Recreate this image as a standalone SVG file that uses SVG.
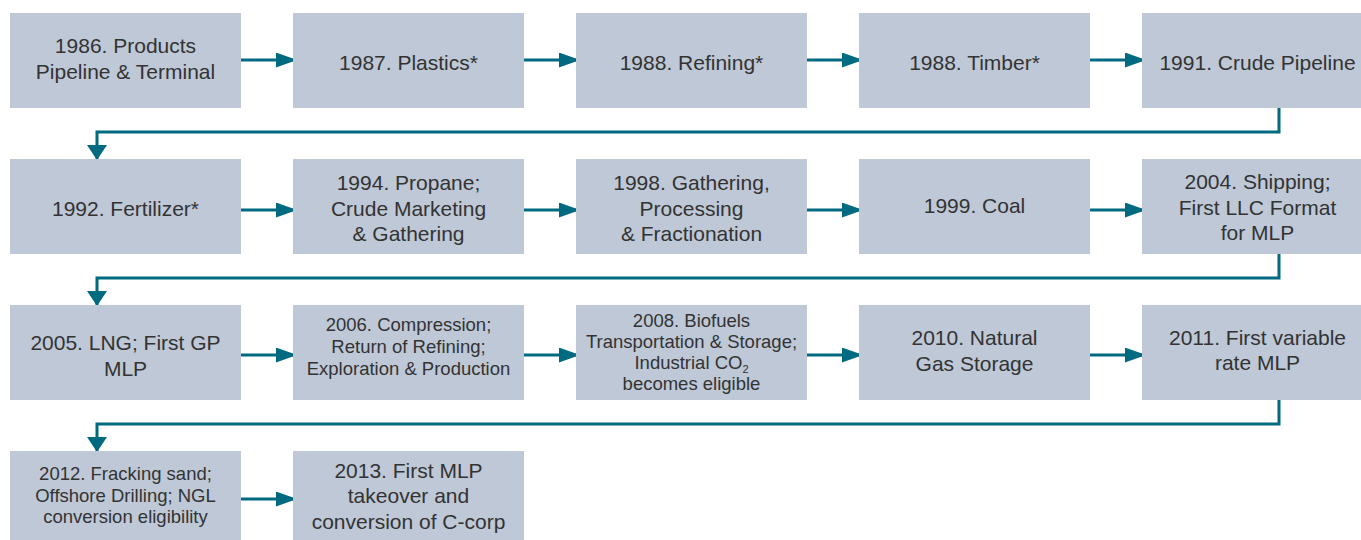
<svg xmlns="http://www.w3.org/2000/svg" width="1361" height="540" viewBox="0 0 1361 540">
<style>
.box{fill:#bec8d6}
.t{font-family:"Liberation Sans",Arial,sans-serif;font-size:21px;fill:#333;text-anchor:middle}
.s{font-size:18.5px}
.c{fill:none;stroke:#006a80;stroke-width:3}
</style>
<defs>
<marker id="ah" markerUnits="userSpaceOnUse" markerWidth="22" markerHeight="15" refX="21" refY="7.5" orient="auto" viewBox="0 0 22 15"><path d="M0,0 L21,7.5 L0,15 z" fill="#006a80"/></marker>
<marker id="av" markerUnits="userSpaceOnUse" markerWidth="16" markerHeight="20" refX="15" refY="10" orient="auto" viewBox="0 0 16 20"><path d="M0,0 L15,10 L0,20 z" fill="#006a80"/></marker>
</defs>
<rect width="1361" height="540" fill="#fff"/>
<g id="connectors">
<line class="c" x1="241" y1="60" x2="297" y2="60" marker-end="url(#ah)"/>
<line class="c" x1="524" y1="60" x2="580" y2="60" marker-end="url(#ah)"/>
<line class="c" x1="807" y1="60" x2="863" y2="60" marker-end="url(#ah)"/>
<line class="c" x1="1090" y1="60" x2="1146" y2="60" marker-end="url(#ah)"/>
<path class="c" d="M1279,108 V132 H97 V160" marker-end="url(#av)"/>
<line class="c" x1="241" y1="210" x2="297" y2="210" marker-end="url(#ah)"/>
<line class="c" x1="524" y1="210" x2="580" y2="210" marker-end="url(#ah)"/>
<line class="c" x1="807" y1="210" x2="863" y2="210" marker-end="url(#ah)"/>
<line class="c" x1="1090" y1="210" x2="1146" y2="210" marker-end="url(#ah)"/>
<path class="c" d="M1279,254 V278 H97 V306" marker-end="url(#av)"/>
<line class="c" x1="241" y1="355" x2="297" y2="355" marker-end="url(#ah)"/>
<line class="c" x1="524" y1="355" x2="580" y2="355" marker-end="url(#ah)"/>
<line class="c" x1="807" y1="355" x2="863" y2="355" marker-end="url(#ah)"/>
<line class="c" x1="1090" y1="355" x2="1146" y2="355" marker-end="url(#ah)"/>
<path class="c" d="M1279,400 V424 H97 V452" marker-end="url(#av)"/>
<line class="c" x1="241" y1="499" x2="297" y2="499" marker-end="url(#ah)"/>
</g>
<g id="n1986"><rect class="box" x="10" y="13" width="231" height="95"/><text class="t" x="125.5" y="53">1986. Products</text><text class="t" x="125.5" y="79">Pipeline &amp; Terminal</text></g>
<g id="n1987"><rect class="box" x="293" y="13" width="231" height="95"/><text class="t" x="408.5" y="70">1987. Plastics*</text></g>
<g id="n1988r"><rect class="box" x="576" y="13" width="231" height="95"/><text class="t" x="691.5" y="70">1988. Refining*</text></g>
<g id="n1988t"><rect class="box" x="859" y="13" width="231" height="95"/><text class="t" x="974.5" y="70">1988. Timber*</text></g>
<g id="n1991"><rect class="box" x="1142" y="13" width="231" height="95"/><text class="t" x="1257.5" y="70">1991. Crude Pipeline</text></g>

<g id="n1992"><rect class="box" x="10" y="159" width="231" height="95"/><text class="t" x="125.5" y="216">1992. Fertilizer*</text></g>
<g id="n1994"><rect class="box" x="293" y="159" width="231" height="95"/><text class="t" x="408.5" y="190">1994. Propane;</text><text class="t" x="408.5" y="216">Crude Marketing</text><text class="t" x="408.5" y="241">&amp; Gathering</text></g>
<g id="n1998"><rect class="box" x="576" y="159" width="231" height="95"/><text class="t" x="691.5" y="190">1998. Gathering,</text><text class="t" x="691.5" y="216">Processing</text><text class="t" x="691.5" y="241">&amp; Fractionation</text></g>
<g id="n1999"><rect class="box" x="859" y="159" width="231" height="95"/><text class="t" x="974.5" y="213">1999. Coal</text></g>
<g id="n2004"><rect class="box" x="1142" y="159" width="231" height="95"/><text class="t" x="1257.5" y="189">2004. Shipping;</text><text class="t" x="1257.5" y="215">First LLC Format</text><text class="t" x="1257.5" y="240">for MLP</text></g>

<g id="n2005"><rect class="box" x="10" y="305" width="231" height="95"/><text class="t" x="125.5" y="350">2005. LNG; First GP</text><text class="t" x="125.5" y="376">MLP</text></g>
<g id="n2006"><rect class="box" x="293" y="305" width="231" height="95"/><text class="t s" x="408.5" y="331">2006. Compression;</text><text class="t s" x="408.5" y="353">Return of Refining;</text><text class="t s" x="408.5" y="375">Exploration &amp; Production</text></g>
<g id="n2008"><rect class="box" x="576" y="305" width="231" height="95"/><text class="t s" x="691.5" y="327">2008. Biofuels</text><text class="t s" x="691.5" y="348">Transportation &amp; Storage;</text><text class="t s" x="691.5" y="369">Industrial CO<tspan font-size="11" dy="4">2</tspan></text><text class="t s" x="691.5" y="390">becomes eligible</text></g>
<g id="n2010"><rect class="box" x="859" y="305" width="231" height="95"/><text class="t" x="974.5" y="345">2010. Natural</text><text class="t" x="974.5" y="371">Gas Storage</text></g>
<g id="n2011"><rect class="box" x="1142" y="305" width="231" height="95"/><text class="t" x="1257.5" y="345">2011. First variable</text><text class="t" x="1257.5" y="370">rate MLP</text></g>

<g id="n2012"><rect class="box" x="10" y="451" width="231" height="95"/><text class="t s" x="125.5" y="480">2012. Fracking sand;</text><text class="t s" x="125.5" y="502">Offshore Drilling; NGL</text><text class="t s" x="125.5" y="523">conversion eligibility</text></g>
<g id="n2013"><rect class="box" x="293" y="451" width="231" height="95"/><text class="t" x="408.5" y="478">2013. First MLP</text><text class="t" x="408.5" y="503">takeover and</text><text class="t" x="408.5" y="529">conversion of C-corp</text></g>
</svg>
